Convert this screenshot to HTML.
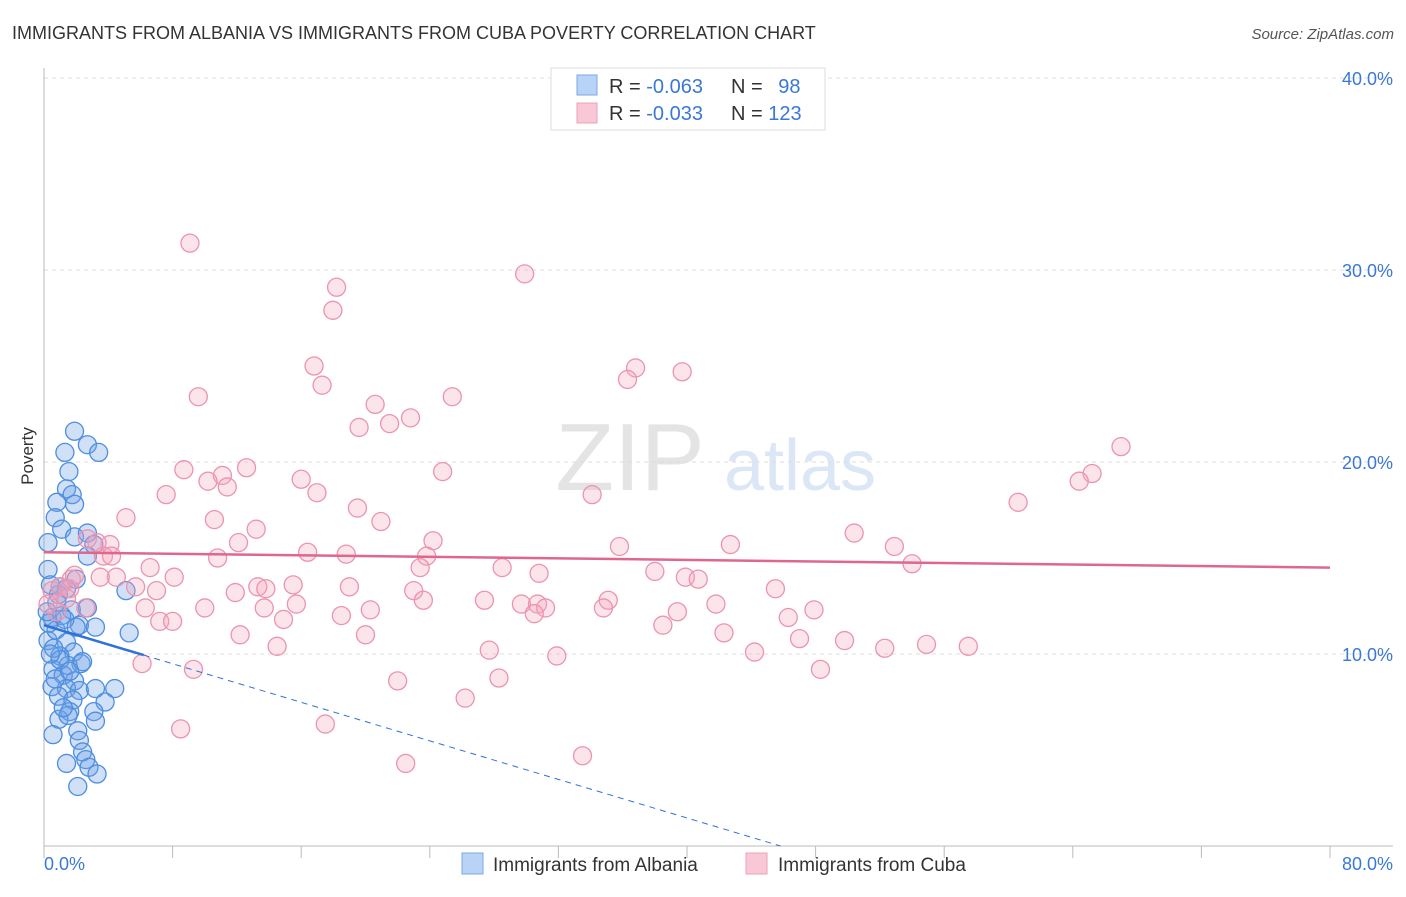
<!DOCTYPE html>
<html><head><meta charset="utf-8"><style>
body{margin:0;background:#fff;font-family:"Liberation Sans",sans-serif;}
svg text{font-family:"Liberation Sans",sans-serif;}
</style></head><body>
<svg id="chart" width="1406" height="892" viewBox="0 0 1406 892" xmlns="http://www.w3.org/2000/svg">
<text x="12" y="39" font-size="18" fill="#333">IMMIGRANTS FROM ALBANIA VS IMMIGRANTS FROM CUBA POVERTY CORRELATION CHART</text>
<text x="1394" y="39" font-size="15" fill="#555" font-style="italic" text-anchor="end">Source: ZipAtlas.com</text>
<g>
<text x="630" y="490" font-size="96" fill="#e4e4e4" font-family="Liberation Serif" text-anchor="middle">ZIP</text>
<text x="800" y="490" font-size="72" fill="#dbe7f6" text-anchor="middle">atlas</text>
</g>
<g id="grid"></g>
<g id="axes"></g>
<g id="pts"></g>
<g id="trends"></g>
<text transform="translate(33,456) rotate(-90)" font-size="17" fill="#333" text-anchor="middle">Poverty</text>
<g>
<rect x="551" y="68" width="274" height="62" fill="#fff" stroke="#ddd"/>
<rect x="577" y="75" width="20" height="20" fill="#b8d3f5" stroke="#7aa7e6"/>
<rect x="577" y="103" width="20" height="20" fill="#f9c8d6" stroke="#eda0b8"/>
<text x="609" y="93" font-size="20" fill="#333">R = <tspan fill="#3a78d8">-0.063</tspan></text>
<text x="731" y="93" font-size="20" fill="#333">N = <tspan fill="#3a78d8" dx="10">98</tspan></text>
<text x="609" y="120" font-size="20" fill="#333">R = <tspan fill="#3a78d8">-0.033</tspan></text>
<text x="731" y="120" font-size="20" fill="#333">N = <tspan fill="#3a78d8">123</tspan></text>
</g>
<g>
<rect x="462" y="853" width="21" height="21" fill="#b8d3f5" stroke="#7aa7e6"/>
<text x="493" y="871" font-size="19" fill="#333">Immigrants from Albania</text>
<rect x="746" y="853" width="21" height="21" fill="#f9c8d6" stroke="#eda0b8"/>
<text x="778" y="871" font-size="19" fill="#333">Immigrants from Cuba</text>
</g>
</svg>
<script>
const yTicks=[10,20,30,40];
const yTickLabels=["10.0%","20.0%","30.0%","40.0%"];
const xTickCount=10;
const xLabels=["0.0%","80.0%"];
const albaniaX=[1.9,2.7,3.4,1.3,1.55,1.4,1.75,1.9,0.8,0.7,1.1,1.9,2.7,0.25,3.1,2.7,0.25,2.0,1.4,5.1,0.4,0.9,2.7,1.7,0.5,1.1,2.2,3.2,5.3,0.25,0.75,1.4,1.85,0.99,2.3,1.5,0.56,1.2,1.9,0.5,1.4,2.2,3.2,4.4,0.9,1.8,3.8,3.1,1.6,0.93,1.5,3.2,0.56,2.1,2.2,2.4,2.6,2.8,1.4,3.3,2.1,0.3,0.6,1.0,1.3,0.2,0.7,1.6,2.0,0.4,1.2,0.8,2.4,1.0];
const albaniaY=[21.6,20.9,20.5,20.5,19.5,18.6,18.3,17.8,17.9,17.1,16.5,16.1,16.3,15.8,15.7,15.1,14.4,13.9,13.4,13.3,13.6,13.1,12.4,12.3,11.9,12.0,11.5,11.4,11.1,10.7,11.25,10.6,10.1,9.9,9.5,9.4,9.2,8.9,8.6,8.3,8.2,8.1,8.2,8.2,7.8,7.6,7.5,7.0,7.0,6.6,6.8,6.5,5.8,6.0,5.5,4.9,4.5,4.1,4.3,3.75,3.1,11.6,10.3,9.7,11.8,12.2,8.7,9.1,11.4,10.0,7.2,12.7,9.6,13.5];
const cubaX=[9.08,29.9,18.2,17.97,16.8,17.3,36.8,36.3,39.7,9.6,25.4,20.6,22.8,21.5,19.6,67.0,65.2,64.4,8.7,12.6,24.8,11.1,10.2,11.4,16.0,16.98,7.6,34.1,60.6,19.5,10.6,20.96,5.1,13.2,50.4,24.2,12.1,16.4,18.8,35.8,42.7,52.9,54.0,4.1,3.7,10.8,23.8,23.4,28.5,6.6,30.8,38.0,39.9,40.7,8.1,4.5,3.5,5.7,7.0,13.3,13.8,15.5,19.0,23.0,45.5,11.9,23.6,35.1,6.3,10.0,13.7,15.7,20.3,27.4,29.7,30.7,31.2,30.5,34.8,39.4,41.8,47.9,46.3,18.5,14.9,7.2,8.0,38.5,42.3,12.2,20.0,47.0,49.8,14.5,27.7,31.9,44.2,52.3,54.9,57.5,6.1,9.3,48.3,28.3,22.0,26.2,17.5,8.5,22.5,33.5,0.5,1.0,1.6,1.4,0.8,0.25,1.7,2.6,1.9,3.3,2.7,4.2];
const cubaY=[31.4,29.8,29.1,27.9,25.0,24.0,24.9,24.3,24.7,23.4,23.4,23.0,22.3,22.0,21.8,20.8,19.4,19.0,19.6,19.7,19.5,19.3,19.0,18.7,19.1,18.4,18.3,18.3,17.9,17.6,17.0,16.9,17.1,16.5,16.3,15.9,15.8,15.3,15.2,15.6,15.7,15.6,14.7,15.7,15.1,15.0,15.1,14.5,14.5,14.5,14.2,14.3,14.0,13.9,14.0,14.0,14.0,13.5,13.3,13.5,13.4,13.6,13.5,13.3,13.4,13.2,12.8,12.8,12.4,12.4,12.4,12.6,12.3,12.8,12.6,12.6,12.4,12.1,12.4,12.2,12.6,12.3,11.9,12.0,11.8,11.7,11.7,11.5,11.1,11.0,11.0,10.8,10.7,10.4,10.2,9.9,10.1,10.3,10.5,10.4,9.5,9.2,9.2,8.75,8.6,7.7,6.35,6.1,4.3,4.7,13.3,13.5,13.4,12.9,12.2,12.6,13.9,12.4,14.1,15.8,16.0,15.1];
const albaniaTrend=[11.5,-0.251];
const cubaTrend=[15.3,-0.01];
const albaniaSolidEnd=6.2;

const X0=44,X1=1330,XMAX=80,Y0=846,PXY=19.2;
const xs=v=>X0+v*(X1-X0)/XMAX;
const ys=v=>Y0-v*PXY;
const NS="http://www.w3.org/2000/svg";
function mk(tag,parent,attrs){const e=document.createElementNS(NS,tag);for(const k in attrs)e.setAttribute(k,attrs[k]);parent.appendChild(e);return e;}
const grid=document.getElementById('grid'),axes=document.getElementById('axes'),pts=document.getElementById('pts'),tr=document.getElementById('trends');
yTicks.forEach((t,i)=>{
  const l=mk('line',grid,{x1:X0,x2:1393,y1:ys(t),y2:ys(t),stroke:'#ddd','stroke-dasharray':'4,4'});
  
  
  const tx=mk('text',axes,{x:1393,y:ys(t)+7,'font-size':18,fill:'#3a78d8','text-anchor':'end'});
  tx.textContent=yTickLabels[i];
  
  
});
const ax=mk('line',axes,{x1:X0,x2:X0,y1:68,y2:Y0,stroke:'#bbb'});


const bx=mk('line',axes,{x1:X0,x2:1393,y1:Y0,y2:Y0,stroke:'#bbb'});


for(let i=0;i<=xTickCount;i++){
  const v=i*XMAX/xTickCount;
  const t=mk('line',axes,{x1:xs(v),x2:xs(v),y1:Y0,y2:Y0+12,stroke:'#bbb'});
  
  
}
const xl0=mk('text',axes,{x:44,y:870,'font-size':18,fill:'#3a78d8'});xl0.textContent=xLabels[0];


const xl1=mk('text',axes,{x:1393,y:870,'font-size':18,fill:'#3a78d8','text-anchor':'end'});xl1.textContent=xLabels[1];


albaniaX.forEach((x,i)=>{
  const c=mk('circle',pts,{cx:xs(x),cy:ys(albaniaY[i]),r:9,fill:'rgba(110,160,230,0.33)',stroke:'#4d8ee0','stroke-width':1.3});
  
  
});
cubaX.forEach((x,i)=>{
  const c=mk('circle',pts,{cx:xs(x),cy:ys(cubaY[i]),r:9,fill:'rgba(245,165,190,0.3)',stroke:'#ec93b0','stroke-width':1.3});
  
  
});
const aEnd=-albaniaTrend[0]/albaniaTrend[1];
const ta=mk('line',tr,{x1:xs(0),y1:ys(albaniaTrend[0]),x2:xs(albaniaSolidEnd),y2:ys(albaniaTrend[0]+albaniaTrend[1]*albaniaSolidEnd),stroke:'#2f72d6','stroke-width':2.5});


const td=mk('line',tr,{x1:xs(albaniaSolidEnd),y1:ys(albaniaTrend[0]+albaniaTrend[1]*albaniaSolidEnd),x2:xs(aEnd),y2:ys(0),stroke:'#2f72d6','stroke-width':1,'stroke-dasharray':'6,5'});


const tc=mk('line',tr,{x1:xs(0),y1:ys(cubaTrend[0]),x2:xs(XMAX),y2:ys(cubaTrend[0]+cubaTrend[1]*XMAX),stroke:'#e0668f','stroke-width':2.5});


</script>
</body></html>
